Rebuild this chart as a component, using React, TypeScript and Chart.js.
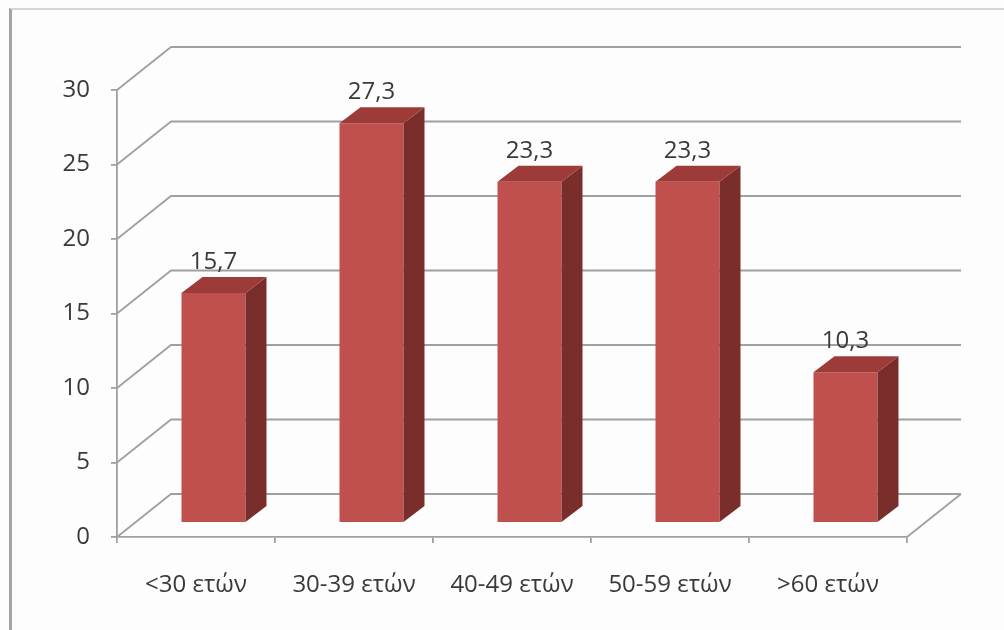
import React, { useEffect, useRef } from "react";
import { Chart, registerables } from "chart.js";

Chart.register(...registerables);

// ---- data ----
const categories = ["<30 ετών", "30-39 ετών", "40-49 ετών", "50-59 ετών", ">60 ετών"];
const values = [15.7, 27.3, 23.3, 23.3, 10.3];
const yTickValues = [0, 5, 10, 15, 20, 25, 30];

// ---- style ----
const FONT = "'Open Sans', 'Noto Sans', sans-serif";
const TEXT = "#3a3a3a";
const GRID = "#a0a0a0";
const FRONT = "#c0504d";
const SIDE = "#7a2e2c";
const TOP = "#9c3b38";
const WALL = { dx: 54, dy: -43 };
const BAR_SHIFT = { dx: 17.5, dy: -14 };
const BAR_DEPTH = { dx: 21, dy: -16 };
const BAR_K = 0.983;

const fmt = (v: number) => v.toFixed(1).replace(".", ",");

const threeD = {
  id: "threeD",
  beforeDatasetsDraw(chart: any) {
    const { ctx, chartArea: a, scales } = chart;
    const y = scales.y;
    const y0 = y.getPixelForValue(0);
    ctx.save();
    ctx.strokeStyle = GRID;
    ctx.lineWidth = 1.8;
    for (const v of yTickValues) {
      const py = y.getPixelForValue(v);
      ctx.beginPath();
      ctx.moveTo(a.left, py);
      ctx.lineTo(a.left + WALL.dx, py + WALL.dy);
      ctx.lineTo(a.right + WALL.dx, py + WALL.dy);
      ctx.stroke();
    }
    ctx.beginPath();
    ctx.moveTo(a.right, y0);
    ctx.lineTo(a.right + WALL.dx, y0 + WALL.dy);
    ctx.stroke();
    ctx.restore();
    ctx.save();
    ctx.translate(BAR_SHIFT.dx, y0 + BAR_SHIFT.dy);
    ctx.scale(1, BAR_K);
    ctx.translate(0, -y0);
  },
  afterDatasetsDraw(chart: any) {
    const { ctx, scales } = chart;
    ctx.restore();
    const y0 = scales.y.getPixelForValue(0);
    const fy = (py: number) => y0 + (py - y0) * BAR_K + BAR_SHIFT.dy;
    const meta = chart.getDatasetMeta(0);
    ctx.save();
    meta.data.forEach((bar: any, i: number) => {
      const p = bar.getProps(["x", "y", "base", "width"], true);
      const l = p.x - p.width / 2 + BAR_SHIFT.dx;
      const r = p.x + p.width / 2 + BAR_SHIFT.dx;
      const t = fy(p.y);
      const b = fy(p.base);
      // side face
      ctx.fillStyle = SIDE;
      ctx.beginPath();
      ctx.moveTo(r, t);
      ctx.lineTo(r + BAR_DEPTH.dx, t + BAR_DEPTH.dy);
      ctx.lineTo(r + BAR_DEPTH.dx, b + BAR_DEPTH.dy);
      ctx.lineTo(r, b);
      ctx.closePath();
      ctx.fill();
      // top face
      ctx.fillStyle = TOP;
      ctx.beginPath();
      ctx.moveTo(l, t);
      ctx.lineTo(l + BAR_DEPTH.dx, t + BAR_DEPTH.dy);
      ctx.lineTo(r + BAR_DEPTH.dx, t + BAR_DEPTH.dy);
      ctx.lineTo(r, t);
      ctx.closePath();
      ctx.fill();
      // value label
      ctx.fillStyle = TEXT;
      ctx.font = `24px ${FONT}`;
      ctx.textAlign = "center";
      ctx.textBaseline = "middle";
      ctx.fillText(fmt(values[i]), (l + r) / 2, t - 31);
    });
    ctx.restore();
  },
};

export default function App() {
  const ref = useRef<HTMLCanvasElement | null>(null);
  useEffect(() => {
    if (!ref.current) return;
    const chart = new Chart(ref.current, {
      type: "bar",
      data: {
        labels: categories,
        datasets: [
          {
            data: values,
            backgroundColor: FRONT,
            borderWidth: 0,
            barPercentage: 0.405,
            categoryPercentage: 1,
            clip: false as any,
          },
        ],
      },
      options: {
        responsive: false,
        animation: false,
        devicePixelRatio: 1,
        layout: { padding: { left: 0, top: 90, right: 97, bottom: 0 } },
        plugins: { legend: { display: false }, tooltip: { enabled: false } },
        scales: {
          x: {
            offset: true,
            grid: { display: true, drawOnChartArea: false, drawTicks: true, tickLength: 6, color: GRID, lineWidth: 1.8, offset: true },
            border: { display: true, color: GRID, width: 1.8 },
            ticks: { color: TEXT, font: { family: FONT, size: 24 }, padding: 28, maxRotation: 0 },
            afterFit: (s: any) => { s.height = 93; },
          },
          y: {
            min: 0,
            max: 30,
            afterBuildTicks: (s: any) => { s.ticks = yTickValues.map((v) => ({ value: v })); },
            grid: { display: true, drawOnChartArea: false, drawTicks: true, tickLength: 6, color: GRID, lineWidth: 1.8 },
            border: { display: true, color: GRID, width: 1.8 },
            ticks: { color: TEXT, font: { family: FONT, size: 24 }, padding: 21 },
            afterFit: (s: any) => { s.width = 117; },
          },
        },
      },
      plugins: [threeD],
    });
    return () => chart.destroy();
  }, []);
  return (
    <div style={{ position: "fixed", left: 0, top: 0, width: 1004, height: 630, background: "#fdfdfd", overflow: "hidden" }}>
      <canvas ref={ref} width={1004} height={630} style={{ position: "absolute", left: 0, top: 0, width: 1004, height: 630 }} />
      <div
        style={{
          position: "absolute",
          left: 9,
          top: 8,
          width: 995,
          height: 622,
          boxSizing: "border-box",
          borderLeft: "3px solid #a4a4a4",
          borderTop: "2px solid #d6d6d6",
          pointerEvents: "none",
        }}
      />
    </div>
  );
}
